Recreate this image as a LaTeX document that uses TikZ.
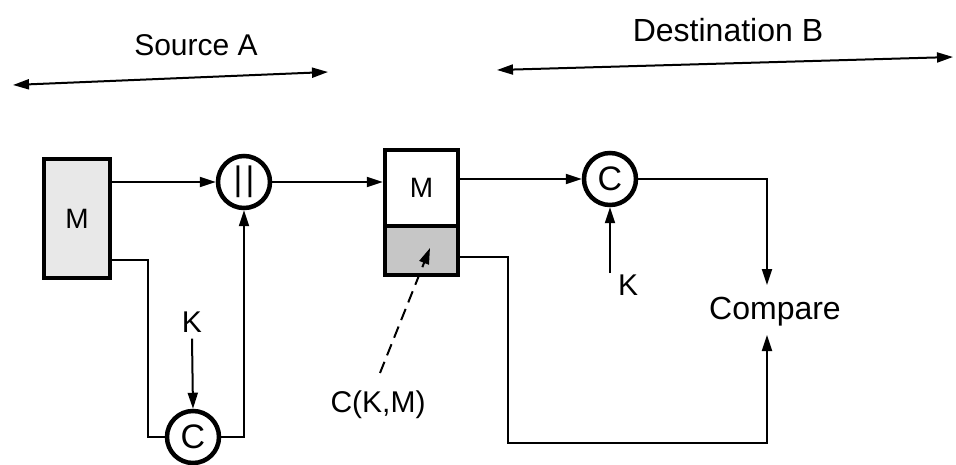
\documentclass[tikz,border=0pt]{standalone}
\usepackage{fontspec}
\setmainfont{Liberation Sans}
\usetikzlibrary{arrows.meta}
\begin{document}
\begin{tikzpicture}[x=1pt,y=-1pt,
  conn/.style={line width=2pt,-{Triangle[length=16pt,width=10pt]}},
  plain/.style={line width=2pt},
  blk/.style={draw,line width=4.5pt,rectangle,inner sep=0pt},
  op/.style={draw,line width=4.5pt,circle,minimum size=52pt,inner sep=0pt,fill=white,font=\fontsize{34}{36}\selectfont},
  lbl/.style={inner sep=0pt,font=\fontsize{30}{34}\selectfont}]
\useasboundingbox (0,0) rectangle (956,465);
% headers
\node[lbl] (srcA) at (196,45) {Source A};
\node[lbl,font=\fontsize{32}{36}\selectfont] (dstB) at (728,30) {Destination B};
\coordinate (sa1) at (13,85); \coordinate (sa2) at (328,72);
\coordinate (db1) at (497,70); \coordinate (db2) at (953,57);
\draw[line width=2pt,{Triangle[length=16pt,width=10pt]}-{Triangle[length=16pt,width=10pt]}] (sa1) -- (sa2);
\draw[line width=2pt,{Triangle[length=16pt,width=10pt]}-{Triangle[length=16pt,width=10pt]}] (db1) -- (db2);
% source side
\node[blk,fill=gray!18,minimum width=66pt,minimum height=119pt,font=\fontsize{28}{30}\selectfont] (boxA) at (77,218.5) {M};
\node[op] (par) at (244,182) {|\kern3pt|};
\node[op] (cA) at (193,437) {C};
\node[lbl] (kA) at (192,322) {K};
\draw[conn] (boxA.east |- par.west) -- (par.west);
\draw[plain] ([yshift=-41.5pt]boxA.east) -- ++(36,0) |- (cA.west);
\draw[conn] (cA.east) -| (par.south);
\draw[conn] ([yshift=-6pt]kA.south) -- (cA.north);
% transmitted block
\node[blk,fill=white,minimum width=73pt,minimum height=76pt,font=\fontsize{28}{30}\selectfont] (boxMt) at (421.5,188) {M};
\node[blk,fill=gray!45,minimum width=73pt,minimum height=49pt] (boxMb) at (421.5,250.5) {};
\draw[conn] (par.east) -- (par.east -| boxMt.west);
\node[lbl] (ckm) at (378,405) {C(K,M)};
\coordinate (dashS) at (380,373);
\coordinate (dashT) at (430,248);
\draw[conn,dashed,dash pattern=on 12pt off 7pt] (dashS) -- (dashT);
% destination side
\node[op] (cB) at (610,179) {C};
\node[lbl] (kB) at (628,285) {K};
\coordinate (kBs) at (610,273);
\node[lbl,font=\fontsize{32}{36}\selectfont] (cmp) at (775,312) {Compare};
\coordinate (cmpT) at (767,285);
\coordinate (cmpB) at (767,335);
\coordinate (lo) at (508,443);
\draw[conn] (cB.west -| boxMt.east) -- (cB.west);
\draw[conn] (kBs) -- (cB.south);
\draw[conn] (cB.east) -| (cmpT);
\draw[conn] ([yshift=-6.5pt]boxMb.east) -| (lo) -| (cmpB);
\end{tikzpicture}
\end{document}
